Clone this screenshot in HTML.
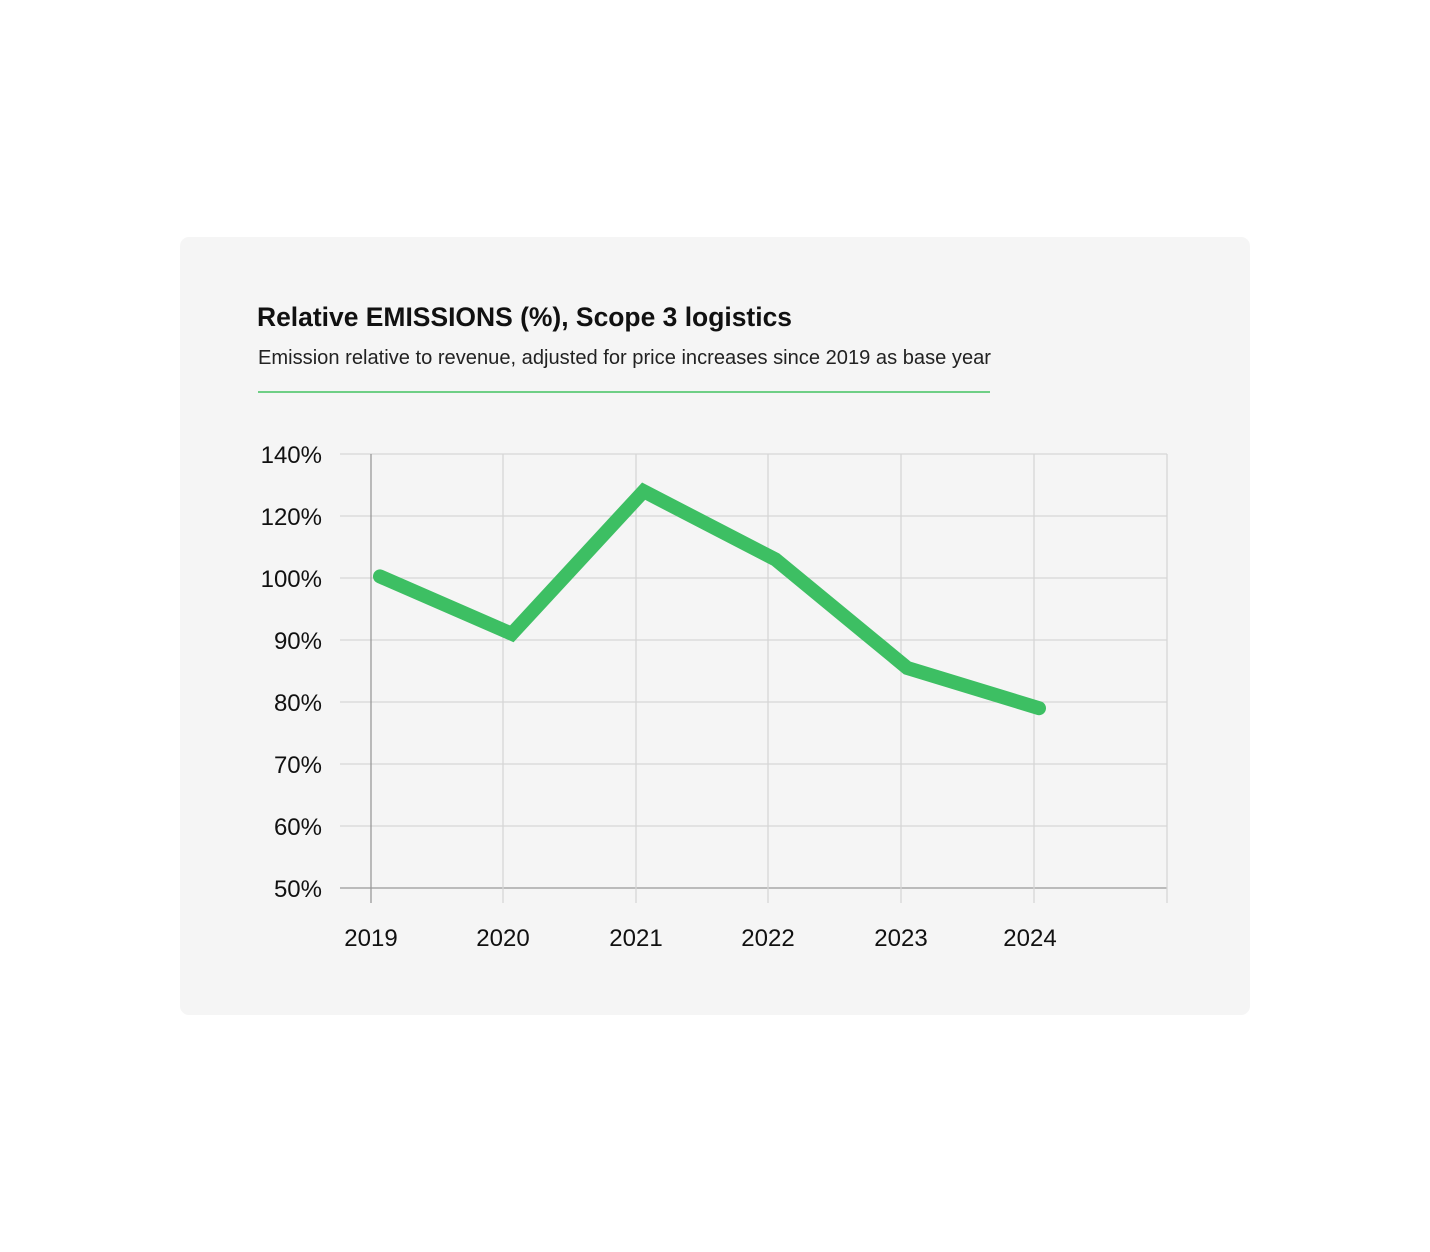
<!DOCTYPE html>
<html><head><meta charset="utf-8"><style>
body{margin:0;width:1430px;height:1252px;background:#fff;font-family:"Liberation Sans",sans-serif;}
svg{position:absolute;left:0;top:0}
</style></head><body>
<svg width="1430" height="1252">
<rect x="180" y="237" width="1070" height="778" rx="9" fill="#f5f5f5"/>
<text x="257" y="326" font-size="27" font-weight="bold" fill="#111" textLength="535" lengthAdjust="spacingAndGlyphs">Relative EMISSIONS (%), Scope 3 logistics</text>
<text x="258" y="364" font-size="20" fill="#222" textLength="733" lengthAdjust="spacingAndGlyphs">Emission relative to revenue, adjusted for price increases since 2019 as base year</text>
<line x1="258" y1="392" x2="990" y2="392" stroke="#6fcf86" stroke-width="2"/>
<g id="grid"></g><g id="labels"></g><g id="series"></g>
</svg>
<script>
const years=["2019","2020","2021","2022","2023","2024"];
const yTicks=[140,120,100,90,80,70,60,50];
const tickLabels=["140%","120%","100%","90%","80%","70%","60%","50%"];
const values=[100.5,91,128,106,85.5,79];
const NS="http://www.w3.org/2000/svg";
const top0=454,step=62,left=340,right=1167,bottom=888;
const gridX=[371,503,636,768,901,1034,1167];
function yScale(v){
  for(let i=0;i<yTicks.length-1;i++){
    const a=yTicks[i],b=yTicks[i+1];
    if(v<=a&&v>=b){return top0+step*(i+(a-v)/(a-b));}
  }
  return v>yTicks[0]?top0-(v-yTicks[0])/20*step:bottom;
}
function xScale(i){return 380+i*131.8;}
function mk(tag,attrs,parent){const e=document.createElementNS(NS,tag);for(const k in attrs)e.setAttribute(k,attrs[k]);parent.appendChild(e);return e;}
const g=document.getElementById('grid'),lb=document.getElementById('labels'),s=document.getElementById('series');
yTicks.forEach((t,i)=>{
  const y=yScale(t);
  const l=mk('line',{x1:left,x2:right,y1:y,y2:y,stroke:i==yTicks.length-1?'#999':'#d6d6d6','stroke-width':1.3},g);
  
  
  const tx=mk('text',{x:322,y:y+9,'text-anchor':'end','font-size':24,fill:'#111'},lb);
  tx.textContent=tickLabels[i];
  
  
});
gridX.forEach((x,i)=>{
  const l=mk('line',{x1:x,x2:x,y1:top0,y2:903,stroke:i==0?'#999':'#d6d6d6','stroke-width':1.3},g);
  
  
});
years.forEach((yr,i)=>{
  const tx=mk('text',{x:i==5?1030:gridX[i],y:946,'text-anchor':'middle','font-size':24,fill:'#111'},lb);
  tx.textContent=yr;
  
  
});
const pts=values.map((v,i)=>xScale(i)+','+yScale(v)).join(' ');
const pl=mk('polyline',{points:pts,fill:'none',stroke:'#3dbf63','stroke-width':14,'stroke-linecap':'round','stroke-linejoin':'miter'},s);


</script>
</body></html>
